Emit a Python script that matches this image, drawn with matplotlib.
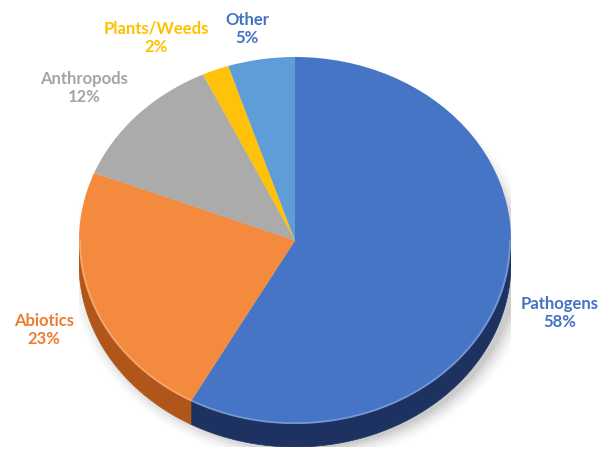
import numpy as np
import matplotlib
matplotlib.use("Agg")
import matplotlib.pyplot as plt
from matplotlib.patches import Polygon, Ellipse

# ---- data ----
categories = ["Pathogens", "Abiotics", "Anthropods", "Plants/Weeds", "Other"]
values = [58, 23, 12, 2, 5]
face_colors = ["#4775C6", "#F38A3E", "#ABABAB", "#FFC20A", "#5E9DD8"]
side_colors = ["#1D3260", "#B0561B", "#7A7A7A", "#B88A00", "#3A6C9C"]
label_colors = ["#4472C4", "#ED7D31", "#A5A5A5", "#FFC000", "#4472C4"]
label_text = ["Pathogens\n58%", "Abiotics\n23%", "Anthropods\n12%", "Plants/Weeds\n2%", "Other\n5%"]

W, H = 615, 452
fig = plt.figure(figsize=(W / 100, H / 100), dpi=100)

# pie axes: top face ellipse spans x 79..511, y 58..425 px; side depth 23 px
x0, x1 = 79, 511
y_top, y_face_bot, y_bot = 58, 425, 448
ry_px = (y_face_bot - y_top) / 2
depth = (y_bot - y_face_bot) / ry_px

ax = fig.add_axes([x0 / W, 1 - y_bot / H, (x1 - x0) / W, (y_bot - y_top) / H])

# soft shadow
for i, a in enumerate(np.linspace(0.06, 0.012, 6)):
    ax.add_patch(Ellipse((0.03, -depth - 0.01), 2.0 + 0.03 * i, 2.0 + 0.03 * i,
                         facecolor="#000000", alpha=a, lw=0, zorder=0))

# side band (front half)
total = float(sum(values))
cum = 0.0
for v, sc in zip(values, side_colors):
    a_start = 90 - 360 * cum / total
    a_end = 90 - 360 * (cum + v) / total
    cum += v
    lo, hi = max(a_end, -180), min(a_start, 0)
    if hi > lo:
        t = np.radians(np.linspace(lo, hi, 120))
        top = np.column_stack([np.cos(t), np.sin(t)])
        bot = np.column_stack([np.cos(t[::-1]), np.sin(t[::-1]) - depth])
        ax.add_patch(Polygon(np.vstack([top, bot]), closed=True, facecolor=sc,
                             edgecolor=sc, lw=0.5, zorder=1))

wedges, _ = ax.pie(values, colors=face_colors, startangle=90, counterclock=False,
                   radius=1, wedgeprops=dict(linewidth=0))
for w in wedges:
    w.set_zorder(2)

# rim highlight on the top face
t = np.radians(np.linspace(-180, 0, 200))
ax.plot(np.cos(t) * 0.995, np.sin(t) * 0.995, color="white", alpha=0.25, lw=1.2, zorder=3)

ax.set_aspect("auto")
ax.set_xlim(-1, 1)
ax.set_ylim(-1 - depth, 1)
ax.axis("off")

# labels (block centers in pixels)
label_pos = [(560, 313), (44, 330), (84, 88), (156, 38), (247, 29)]
for txt, col, (px, py) in zip(label_text, label_colors, label_pos):
    fig.text(px / W, 1 - py / H, txt, color=col, ha="center", va="center",
             fontsize=12, fontweight="bold", family="Lato", linespacing=1.2)

fig.savefig("out.png", dpi=100)
